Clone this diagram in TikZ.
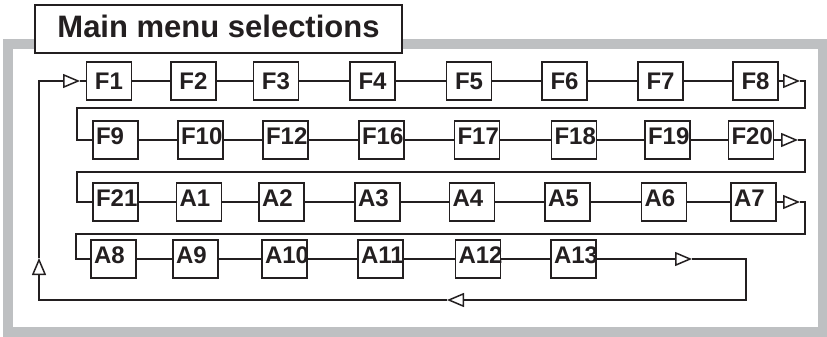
\documentclass[tikz,border=0pt]{standalone}
\usepackage{fontspec}
\setmainfont{Liberation Sans}
\usetikzlibrary{arrows.meta}
\definecolor{ink}{HTML}{231F20}
\definecolor{framegray}{HTML}{BEC0C2}
\begin{document}
\begin{tikzpicture}[x=1pt,y=-1pt,
  box/.style={draw=ink, line width=1.8pt, fill=white, minimum width=45pt, minimum height=38pt,
              inner sep=0pt, text=ink, font=\fontsize{24}{24}\selectfont\bfseries},
  lo/.style={text width=39pt, align=left, text depth=8pt},
  wire/.style={draw=ink, line width=1.5pt},
  tri/.style={-{Triangle[open,length=17pt,width=14pt]}},
]
\useasboundingbox (0,0) rectangle (827,337);
\draw[framegray, line width=10pt] (8,44.5) rectangle (822.5,332);
\node[draw=ink, line width=1.6pt, fill=white, minimum width=367pt, minimum height=48pt, inner sep=0pt,
      text depth=6pt, font=\fontsize{31}{31}\selectfont\bfseries, text=ink] (title) at (218.5,29) {Main menu selections};

% row 1
\node[box] (F1) at (109,81) {F1};
\node[box] (F2) at (193.5,81) {F2};
\node[box] (F3) at (276,81) {F3};
\node[box] (F4) at (372.5,81) {F4};
\node[box] (F5) at (469,81) {F5};
\node[box] (F6) at (564.5,81) {F6};
\node[box] (F7) at (660.5,81) {F7};
\node[box] (F8) at (755.5,81) {F8};
% row 2
\node[box,lo] (F9) at (115.5,140) {F9};
\node[box,lo] (F10) at (200.5,140) {F10};
\node[box,lo] (F12) at (285.5,140) {F12};
\node[box,lo] (F16) at (381.5,140) {F16};
\node[box,lo] (F17) at (477,140) {F17};
\node[box,lo] (F18) at (574,140) {F18};
\node[box,lo] (F19) at (667.5,140) {F19};
\node[box,lo] (F20) at (751,140) {F20};
% row 3
\node[box,lo] (F21) at (115.5,202) {F21};
\node[box,lo] (A1) at (199,202) {A1};
\node[box,lo] (A2) at (281.5,202) {A2};
\node[box,lo] (A3) at (377.5,202) {A3};
\node[box,lo] (A4) at (472,202) {A4};
\node[box,lo] (A5) at (567.5,202) {A5};
\node[box,lo] (A6) at (664,202) {A6};
\node[box,lo] (A7) at (753.5,202) {A7};
% row 4
\node[box,lo] (A8) at (113.5,259) {A8};
\node[box,lo] (A9) at (195.5,259) {A9};
\node[box,lo] (A10) at (284.5,259) {A10};
\node[box,lo] (A11) at (380.5,259) {A11};
\node[box,lo] (A12) at (478,259) {A12};
\node[box,lo] (A13) at (573.5,259) {A13};

% chains
\draw[wire] (F1) -- (F2) -- (F3) -- (F4) -- (F5) -- (F6) -- (F7) -- (F8);
\draw[wire] (F9) -- (F10) -- (F12) -- (F16) -- (F17) -- (F18) -- (F19) -- (F20);
\draw[wire] (F21) -- (A1) -- (A2) -- (A3) -- (A4) -- (A5) -- (A6) -- (A7);
\draw[wire] (A8) -- (A9) -- (A10) -- (A11) -- (A12) -- (A13);

% coordinates
\coordinate (t1) at (800,81);
\coordinate (r1a) at (805,81);
\coordinate (r1b) at (805,108);
\coordinate (r1c) at (77,108);
\coordinate (r1d) at (77,140);
\coordinate (t2) at (798,140);
\coordinate (r2a) at (805,140);
\coordinate (r2b) at (805,172);
\coordinate (r2c) at (77,172);
\coordinate (r2d) at (77,202);
\coordinate (t3) at (800,202);
\coordinate (r3a) at (805,202);
\coordinate (r3b) at (805,234);
\coordinate (r3c) at (76,234);
\coordinate (r3d) at (76,259);
\coordinate (t4) at (692,259);
\coordinate (r4a) at (746,259);
\coordinate (r4b) at (746,300);
\coordinate (t5) at (447,300);
\coordinate (r5a) at (39,300);
\coordinate (t6) at (39,258);
\coordinate (r6a) at (39,81);
\coordinate (t7) at (80,81);

% return paths
\draw[wire,tri] (F8) -- (t1);
\draw[wire] (t1) -- (r1a) -- (r1b) -- (r1c) -- (r1d) -- (F9);
\draw[wire,tri] (F20) -- (t2);
\draw[wire] (t2) -- (r2a) -- (r2b) -- (r2c) -- (r2d) -- (F21);
\draw[wire,tri] (A7) -- (t3);
\draw[wire] (t3) -- (r3a) -- (r3b) -- (r3c) -- (r3d) -- (A8);
\draw[wire,tri] (A13) -- (t4);
\draw[wire,tri] (t4) -- (r4a) -- (r4b) -- (t5);
\draw[wire,tri] (t5) -- (r5a) -- (t6);
\draw[wire,tri] (t6) -- (r6a) -- (t7);
\draw[wire] (t7) -- (F1);
\end{tikzpicture}
\end{document}
